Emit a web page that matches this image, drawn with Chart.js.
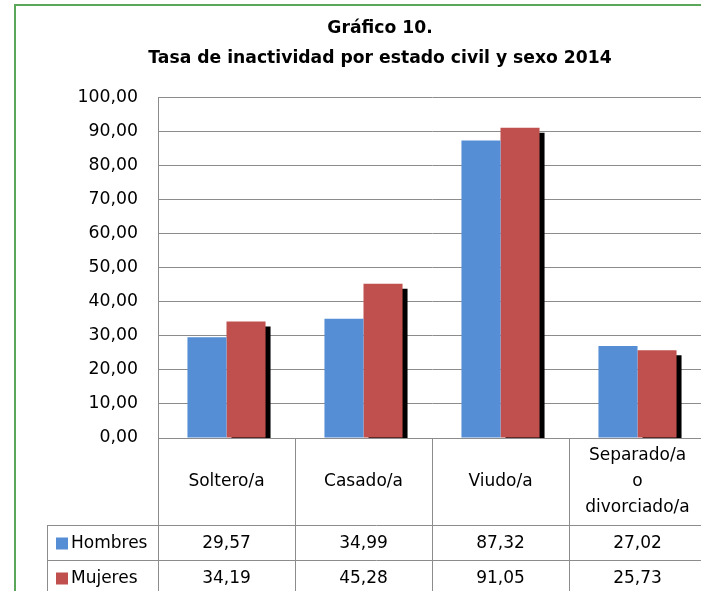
<!DOCTYPE html>
<html>
<head>
<meta charset="utf-8">
<script src="https://cdn.jsdelivr.net/npm/chart.js@4.4.1/dist/chart.umd.min.js"></script>
<style>
  html, body { margin: 0; padding: 0; background: #fff; overflow: hidden; }
  #frame {
    position: absolute; left: 14px; top: 4px;
    width: 728px; height: 600px;
    border-left: 2px solid #5aa75a; border-top: 2px solid #5aa75a;
  }
  canvas { display: block; }
</style>
</head>
<body>
<div id="frame"><canvas id="chart" width="728" height="600"></canvas></div>
<script>
// data
const categories = ["Soltero/a", "Casado/a", "Viudo/a", ["Separado/a", "o", "divorciado/a"]];
const hombres = [29.57, 34.99, 87.32, 27.02];
const mujeres = [34.19, 45.28, 91.05, 25.73];
const seriesNames = ["Hombres", "Mujeres"];
const seriesColors = ["#558ed5", "#c0504d"];

const FONT = "'DejaVu Sans', sans-serif";
const FONT_SIZE = 17;
const gridColor = "#8c8c8c";

function fmt(v) {
  return v.toFixed(2).replace(".", ",");
}

// black drop shadow behind the front (last) series only;
// chart.js draws dataset 0 on top, so its shadow would fall on the red bars
const shadowPlugin = {
  id: "barShadow",
  beforeDatasetDraw(chart, args) {
    const ctx = chart.ctx;
    ctx.save();
    if (args.index === chart.data.datasets.length - 1) {
      ctx.shadowColor = "#000";
      ctx.shadowOffsetX = 5;
      ctx.shadowOffsetY = 5;
      ctx.shadowBlur = 0;
    }
  },
  afterDatasetDraw(chart) {
    chart.ctx.restore();
  },
};

// data table under the x axis
const tablePlugin = {
  id: "dataTable",
  afterDraw(chart) {
    const ctx = chart.ctx;
    const area = chart.chartArea;
    const x = chart.scales.x;
    const n = categories.length;
    const colW = (area.right - area.left) / n;
    const headerBottom = area.bottom + 87;
    const rowH = 35;
    const legendLeft = 31;
    const tableBottom = headerBottom + rowH * chart.data.datasets.length;

    ctx.save();
    ctx.strokeStyle = gridColor;
    ctx.lineWidth = 1;
    ctx.beginPath();
    // vertical lines
    for (let i = 0; i <= n; i++) {
      const px = Math.round(area.left + i * colW) + 0.5;
      ctx.moveTo(px, area.bottom);
      ctx.lineTo(px, tableBottom);
    }
    ctx.moveTo(legendLeft + 0.5, headerBottom);
    ctx.lineTo(legendLeft + 0.5, tableBottom);
    // horizontal lines
    for (let r = 0; r <= chart.data.datasets.length; r++) {
      const py = Math.round(headerBottom + r * rowH) + 0.5;
      ctx.moveTo(legendLeft, py);
      ctx.lineTo(area.right, py);
    }
    ctx.stroke();

    ctx.fillStyle = "#000";
    ctx.font = FONT_SIZE + "px " + FONT;
    ctx.textAlign = "center";
    ctx.textBaseline = "middle";

    // category header
    const headerMid = (area.bottom + headerBottom) / 2;
    categories.forEach((cat, i) => {
      const cx = x.getPixelForValue(i);
      const lines = Array.isArray(cat) ? cat : [cat];
      const lh = 26;
      lines.forEach((ln, k) => {
        ctx.fillText(ln, cx, headerMid + (k - (lines.length - 1) / 2) * lh);
      });
    });

    // value rows
    chart.data.datasets.forEach((ds, r) => {
      const my = headerBottom + r * rowH + rowH / 2 + 1;
      ctx.fillStyle = ds.backgroundColor;
      ctx.fillRect(legendLeft + 9, my - 6, 12, 12);
      ctx.fillStyle = "#000";
      ctx.textAlign = "left";
      ctx.fillText(ds.label, legendLeft + 24, my);
      ctx.textAlign = "center";
      ds.data.forEach((v, i) => {
        ctx.fillText(fmt(v), x.getPixelForValue(i), my);
      });
    });
    ctx.restore();
  },
};

const ctx = document.getElementById("chart").getContext("2d");
new Chart(ctx, {
  type: "bar",
  data: {
    labels: categories,
    datasets: [
      { label: seriesNames[0], data: hombres, backgroundColor: seriesColors[0] },
      { label: seriesNames[1], data: mujeres, backgroundColor: seriesColors[1] },
    ],
  },
  plugins: [shadowPlugin, tablePlugin],
  options: {
    responsive: false,
    animation: false,
    events: [],
    // left padding keeps the title centred on the full frame
    layout: { padding: { top: 0, right: 38, bottom: 0, left: 38 } },
    datasets: {
      bar: { categoryPercentage: 0.57, barPercentage: 1.0 },
    },
    scales: {
      x: {
        grid: { display: false, drawTicks: false },
        border: { color: gridColor },
        ticks: { display: false },
        afterFit(scale) { scale.height = 168; },
      },
      y: {
        min: 0,
        max: 100,
        ticks: {
          stepSize: 10,
          padding: 20,
          color: "#000",
          font: { family: FONT, size: 17.3 },
          callback: (v) => fmt(v),
        },
        grid: { color: gridColor, drawTicks: false },
        border: { color: gridColor },
        afterFit(scale) { scale.width = 104; },
      },
    },
    plugins: {
      legend: { display: false },
      tooltip: { enabled: false },
      title: {
        display: true,
        text: ["Gráfico 10.", "Tasa de inactividad por estado civil y sexo 2014"],
        color: "#000",
        font: { family: FONT, size: 17.2, weight: "bold", lineHeight: 1.75 },
        padding: { top: 7, bottom: 24 },
      },
    },
  },
});
</script>
</body>
</html>
